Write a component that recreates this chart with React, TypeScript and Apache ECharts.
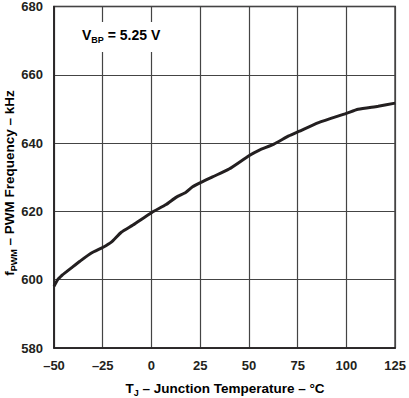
import React, { useEffect, useRef } from "react";
import * as echarts from "echarts";

const temps = [-50, -48, -46.4, -45.9, -41, -36.7, -30.8, -24.8, -20.6, -15.5, -9.5, 0.2, 7.5, 12.6, 17.7, 21.1, 25.4, 31.3, 39.8, 50, 55.1, 62.8, 70.4, 75.5, 85.7, 100, 106, 116.3, 125];
const freqs = [598.1, 600.1, 601.0, 601.3, 603.5, 605.4, 607.8, 609.5, 611.0, 613.9, 616.0, 619.7, 622.0, 624.1, 625.6, 627.2, 628.5, 630.1, 632.4, 636.3, 637.9, 639.7, 642.1, 643.4, 646.0, 648.7, 649.9, 650.8, 651.7];
const xTicks = { min: -50, max: 125, interval: 25 };
const yTicks = { min: 580, max: 680, interval: 20 };

const FONT = "'Liberation Sans', Arial, sans-serif";
const DARK = "#231f20";

export default function App() {
  const ref = useRef<HTMLDivElement>(null);
  useEffect(() => {
    const chart = echarts.init(ref.current!, null, { renderer: "svg" });
    const data = temps.map((t, i) => [t, freqs[i]]);
    const main = { fontSize: 13.5, fontWeight: "bold", fontFamily: FONT, color: DARK, lineHeight: 18, verticalAlign: "middle" };
    const sub = { fontSize: 9, fontWeight: "bold", fontFamily: FONT, color: DARK, lineHeight: 8, verticalAlign: "bottom" };
    chart.setOption({
      animation: false,
      grid: { left: 54, top: 5, width: 343, height: 343, show: true, borderColor: DARK, borderWidth: 1.5, backgroundColor: "#fff" },
      xAxis: {
        type: "value",
        min: xTicks.min,
        max: xTicks.max,
        interval: xTicks.interval,
        axisLine: { show: true, onZero: false, lineStyle: { color: DARK, width: 1.5 } },
        axisTick: { show: false },
        splitLine: { show: true, lineStyle: { color: "#444", width: 1.2 } },
        axisLabel: {
          fontSize: 13, fontWeight: "bold", fontFamily: FONT, color: DARK, margin: 11,
          formatter: (v: number) => (v < 0 ? "\u2013" + Math.abs(v) : String(v)),
        },
      },
      yAxis: {
        type: "value",
        min: yTicks.min,
        max: yTicks.max,
        interval: yTicks.interval,
        axisLine: { show: true, onZero: false, lineStyle: { color: DARK, width: 1.5 } },
        axisTick: { show: false },
        splitLine: { show: true, lineStyle: { color: "#444", width: 1.2 } },
        axisLabel: { fontSize: 13, fontWeight: "bold", fontFamily: FONT, color: DARK, margin: 11 },
      },
      series: [
        {
          type: "line",
          data,
          showSymbol: false,
          smooth: 0.2,
          lineStyle: { color: DARK, width: 3 },
          z: 5,
        },
      ],
      graphic: [
        { type: "rect", left: 77, top: 22, shape: { width: 84, height: 30 }, style: { fill: "#fff" }, z: 10 },
        {
          type: "text", x: 82, y: 35, z: 11,
          style: {
            text: "{m|V}{s|BP}{m| = 5.25 V}",
            verticalAlign: "middle",
            rich: { m: { ...main, fontSize: 14 }, s: sub },
          },
        },
        {
          type: "text", x: 225, y: 388,
          style: {
            text: "{m|T}{s|J}{m| \u2013 Junction Temperature \u2013 \u00B0C}",
            align: "center", verticalAlign: "middle",
            rich: { m: main, s: sub },
          },
        },
        {
          type: "text", x: 9, y: 183, rotation: Math.PI / 2,
          style: {
            text: "{m|f}{s|PWM}{m| \u2013 PWM Frequency \u2013 kHz}",
            align: "center", verticalAlign: "middle",
            rich: { m: main, s: sub },
          },
        },
      ],
    });
    return () => chart.dispose();
  }, []);
  return <div ref={ref} style={{ width: 409, height: 398, position: "absolute", left: 0, top: 0 }} />;
}
